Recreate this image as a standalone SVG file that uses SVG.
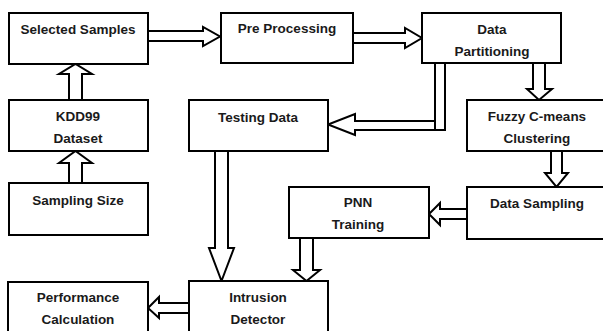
<svg xmlns="http://www.w3.org/2000/svg" width="603" height="331" viewBox="0 0 603 331">
<style>
.box{fill:#fff;stroke:#000;stroke-width:2}
.arr{fill:#fff;stroke:#000;stroke-width:2;stroke-linejoin:miter}
text{font-family:"Liberation Sans",Arial,sans-serif;font-weight:bold;font-size:13.5px;fill:#1a1a1a;text-anchor:middle}
</style>
<rect width="603" height="331" fill="#fff"/>
<g id="connectors">
<polygon class="arr" points="148,31 203,31 203,27 220,36.5 203,46 203,41 148,41"/>
<polygon class="arr" points="353,33 405,33 405,28 422,38 405,48 405,43 353,43"/>
<polygon class="arr" points="436,121 355,121 355,114 328,124.5 355,135 355,130 436,130"/>
<rect class="arr" x="435" y="63" width="10" height="67"/>
<polygon class="arr" points="533,63 533,89 527,89 539,100 552,89 545,89 545,63"/>
<polygon class="arr" points="551,151 551,173 545,173 556.5,187 568,173 562,173 562,151"/>
<polygon class="arr" points="467,209 440,209 440,203 429,214 440,225 440,219 467,219"/>
<polygon class="arr" points="300,238 300,270 293,270 306.5,281 320,270 313,270 313,238"/>
<polygon class="arr" points="215,151 215,248 209,248 221.5,281 234,248 228,248 228,151"/>
<polygon class="arr" points="189,303 159,303 159,297 148,308 159,318 159,313 189,313"/>
<polygon class="arr" points="69,100 69,74 59,74 75.5,64 92,74 82,74 82,100"/>
<polygon class="arr" points="69,183 69,163 59,163 75.5,151 92,163 82,163 82,183"/>
</g>
<g id="selected"><rect class="box" x="9" y="13" width="139" height="51"/><text x="78" y="34">Selected Samples</text></g>
<g id="preprocessing"><rect class="box" x="221" y="13" width="132" height="50"/><text x="287" y="33">Pre Processing</text></g>
<g id="partitioning"><rect class="box" x="422" y="13" width="139" height="50"/><text x="492" y="34">Data</text><text x="492" y="56">Partitioning</text></g>
<g id="kdd99"><rect class="box" x="9" y="100" width="139" height="51"/><text x="78" y="121">KDD99</text><text x="78" y="143">Dataset</text></g>
<g id="testing"><rect class="box" x="189" y="100" width="139" height="51"/><text x="258" y="122">Testing Data</text></g>
<g id="fuzzy"><rect class="box" x="467" y="100" width="140" height="51"/><text x="537" y="121">Fuzzy C-means</text><text x="537" y="143">Clustering</text></g>
<g id="samplingsize"><rect class="box" x="9" y="183" width="139" height="52"/><text x="78" y="205">Sampling Size</text></g>
<g id="pnn"><rect class="box" x="289" y="187" width="140" height="51"/><text x="358" y="207">PNN</text><text x="358" y="229">Training</text></g>
<g id="datasampling"><rect class="box" x="467" y="187" width="140" height="52"/><text x="537" y="208">Data Sampling</text></g>
<g id="performance"><rect class="box" x="8" y="282" width="140" height="55"/><text x="78" y="302">Performance</text><text x="78" y="324">Calculation</text></g>
<g id="intrusion"><rect class="box" x="189" y="281" width="139" height="56"/><text x="258" y="302">Intrusion</text><text x="258" y="324">Detector</text></g>
</svg>
